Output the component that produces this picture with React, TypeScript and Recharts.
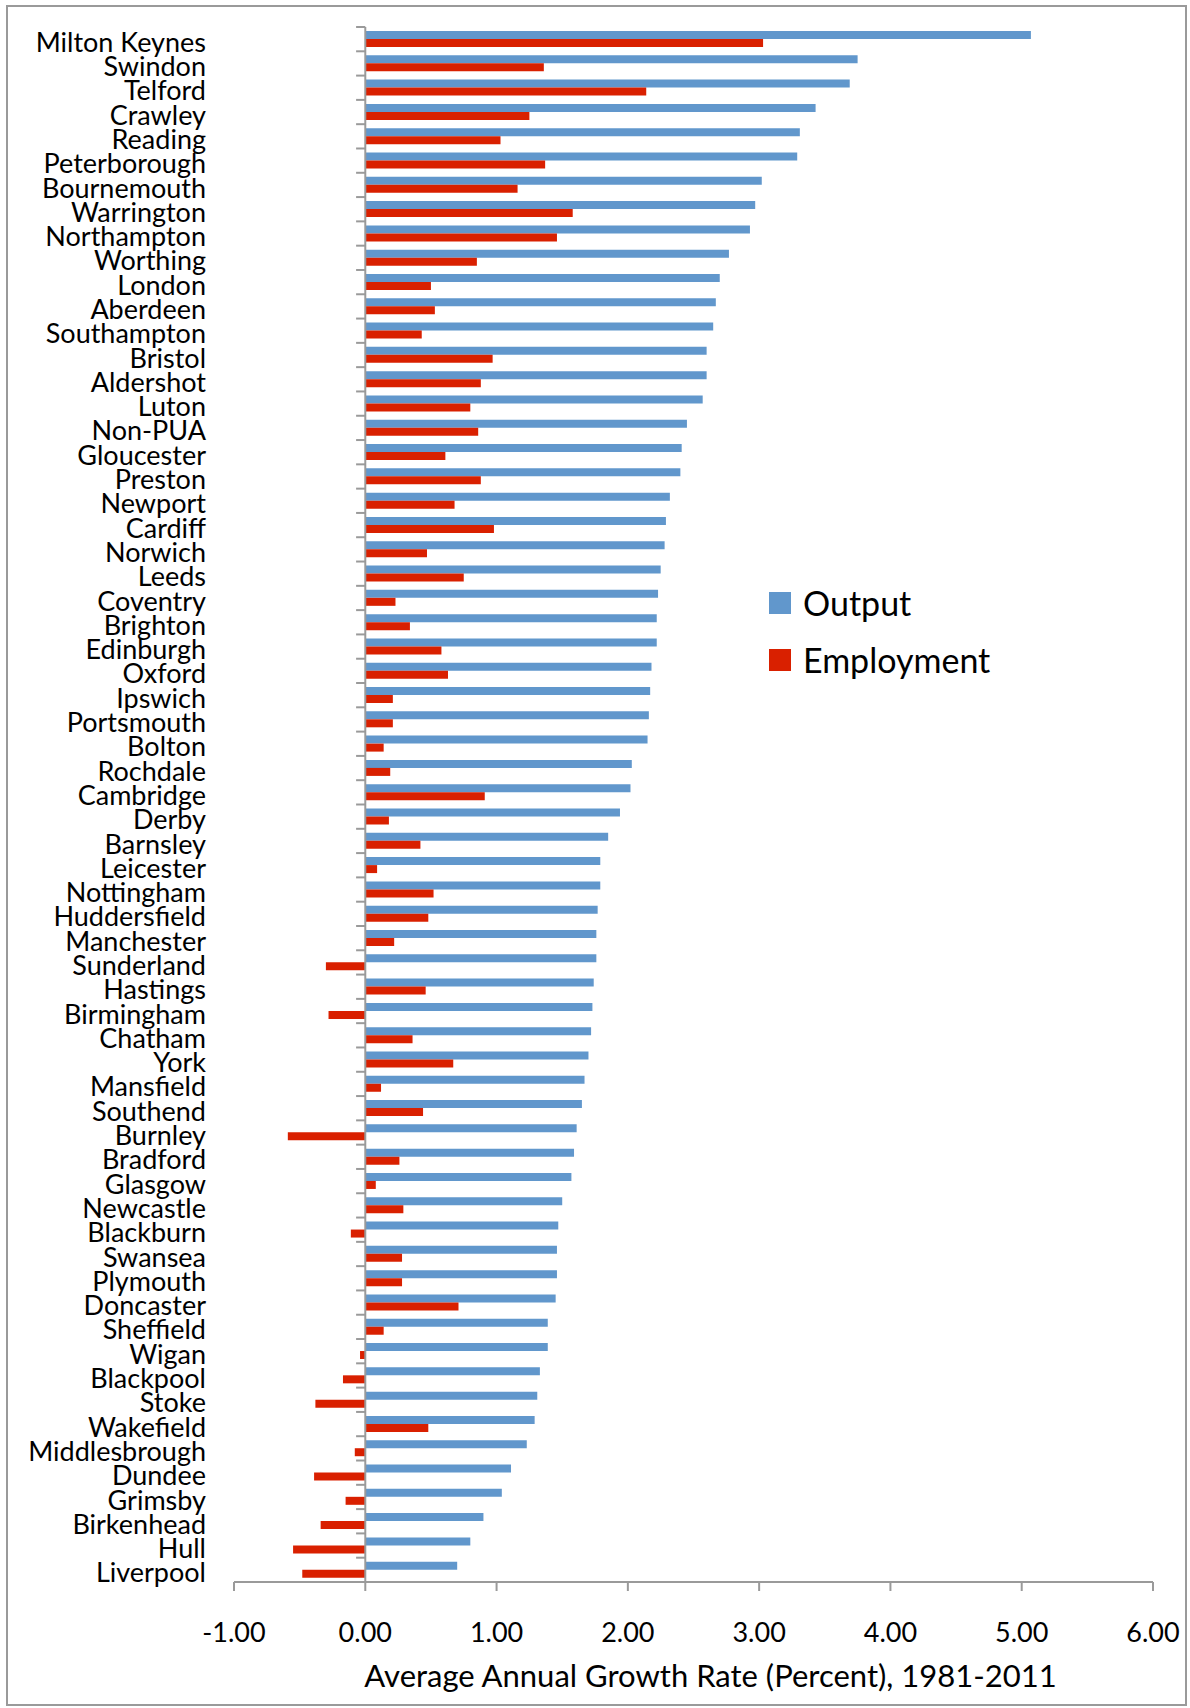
import {
  BarChart,
  Bar,
  XAxis,
  YAxis,
  Legend,
  ReferenceLine
} from "recharts";

const cities = [
  "Milton Keynes", "Swindon", "Telford", "Crawley", "Reading", "Peterborough",
  "Bournemouth", "Warrington", "Northampton", "Worthing", "London", "Aberdeen",
  "Southampton", "Bristol", "Aldershot", "Luton", "Non-PUA", "Gloucester",
  "Preston", "Newport", "Cardiff", "Norwich", "Leeds", "Coventry", "Brighton",
  "Edinburgh", "Oxford", "Ipswich", "Portsmouth", "Bolton", "Rochdale",
  "Cambridge", "Derby", "Barnsley", "Leicester", "Nottingham", "Huddersfield",
  "Manchester", "Sunderland", "Hastings", "Birmingham", "Chatham", "York",
  "Mansfield", "Southend", "Burnley", "Bradford", "Glasgow", "Newcastle",
  "Blackburn", "Swansea", "Plymouth", "Doncaster", "Sheffield", "Wigan",
  "Blackpool", "Stoke", "Wakefield", "Middlesbrough", "Dundee", "Grimsby",
  "Birkenhead", "Hull", "Liverpool",
];

const output = [
  5.07, 3.75, 3.69, 3.43, 3.31, 3.29, 3.02, 2.97, 2.93, 2.77, 2.70, 2.67,
  2.65, 2.60, 2.60, 2.57, 2.45, 2.41, 2.40, 2.32, 2.29, 2.28, 2.25, 2.23,
  2.22, 2.22, 2.18, 2.17, 2.16, 2.15, 2.03, 2.02, 1.94, 1.85, 1.79, 1.79,
  1.77, 1.76, 1.76, 1.74, 1.73, 1.72, 1.70, 1.67, 1.65, 1.61, 1.59, 1.57,
  1.50, 1.47, 1.46, 1.46, 1.45, 1.39, 1.39, 1.33, 1.31, 1.29, 1.23, 1.11,
  1.04, 0.90, 0.80, 0.70,
];

const employment = [
  3.03, 1.36, 2.14, 1.25, 1.03, 1.37, 1.16, 1.58, 1.46, 0.85, 0.50, 0.53,
  0.43, 0.97, 0.88, 0.80, 0.86, 0.61, 0.88, 0.68, 0.98, 0.47, 0.75, 0.23,
  0.34, 0.58, 0.63, 0.21, 0.21, 0.14, 0.19, 0.91, 0.18, 0.42, 0.09, 0.52,
  0.48, 0.22, -0.30, 0.46, -0.28, 0.36, 0.67, 0.12, 0.44, -0.59, 0.26, 0.08,
  0.29, -0.11, 0.28, 0.28, 0.71, 0.14, -0.04, -0.17, -0.38, 0.48, -0.08, -0.39,
  -0.15, -0.34, -0.55, -0.48,
];

const xTicks = [-1, 0, 1, 2, 3, 4, 5, 6];
const legendOrder = ["Output", "Employment"];

const data = cities.map((name, i) => ({
  name,
  output: output[i],
  employment: employment[i],
}));

const FONT = "Lato, 'Open Sans', sans-serif";
const AXIS = "#9a9a9a";

// recharts reverses the payload in vertical layout, so put it back in series order
const renderLegend = (props: any) => {
  const items = [...(props.payload || [])].sort(
    (a: any, b: any) => legendOrder.indexOf(a.value) - legendOrder.indexOf(b.value)
  );
  return (
    <div style={{ fontFamily: FONT, fontSize: 34, color: "#000" }}>
      {items.map((item: any) => (
        <div key={item.value} style={{ display: "flex", alignItems: "center", height: 57 }}>
          <span style={{ display: "inline-block", width: 22, height: 22, background: item.color, marginRight: 12 }} />
          <span>{item.value}</span>
        </div>
      ))}
    </div>
  );
};

export default function App() {
  return (
    <div style={{ position: "absolute", left: 0, top: 0, width: 1190, height: 1708, background: "#fff" }}>
      <div
        style={{
          position: "absolute",
          left: 6,
          top: 5,
          width: 1181,
          height: 1701,
          boxSizing: "border-box",
          border: `2px solid ${AXIS}`,
        }}
      />
      <div style={{ position: "absolute", left: 0, top: 0 }}>
        <BarChart
          width={1190}
          height={1708}
          data={data}
          layout="vertical"
          margin={{ top: 27, right: 37, left: 0, bottom: 0 }}
          barCategoryGap={4}
          barGap={0}
        >
          <XAxis
            type="number"
            domain={[-1, 6]}
            ticks={xTicks}
            allowDataOverflow
            height={126}
            stroke={AXIS}
            axisLine={{ stroke: AXIS, strokeWidth: 2 }}
            tickLine={{ stroke: AXIS, strokeWidth: 2 }}
            tickSize={9}
            tickMargin={32}
            tickFormatter={(v: number) => v.toFixed(2)}
            tick={{ fill: "#000", fontSize: 27, fontFamily: FONT }}
            label={{
              value: "Average Annual Growth Rate (Percent), 1981-2011",
              position: "insideBottom",
              offset: 21,
              dx: 17,
              style: { fill: "#000", fontSize: 31, fontFamily: FONT },
            }}
          />
          <YAxis
            type="category"
            dataKey="name"
            width={234}
            interval={0}
            axisLine={false}
            tickLine={false}
            tickSize={0}
            tickMargin={28}
            tick={{ fill: "#000", fontSize: 27, fontFamily: FONT, dy: 3 }}
          />
          <Legend
            layout="vertical"
            align="center"
            verticalAlign="middle"
            content={renderLegend}
            wrapperStyle={{ left: 769, top: 574, width: 320 }}
          />
          <Bar dataKey="output" name="Output" fill="#6197CC" isAnimationActive={false} />
          <Bar dataKey="employment" name="Employment" fill="#D92000" isAnimationActive={false} />
          <ReferenceLine x={0} stroke={AXIS} strokeWidth={2} />
          {cities.map((c) => (
            <ReferenceLine
              key={c}
              position="start"
              segment={[{ x: -0.07, y: c }, { x: 0, y: c }]}
              stroke={AXIS}
              strokeWidth={2}
              ifOverflow="visible"
            />
          ))}
        </BarChart>
      </div>
    </div>
  );
}
